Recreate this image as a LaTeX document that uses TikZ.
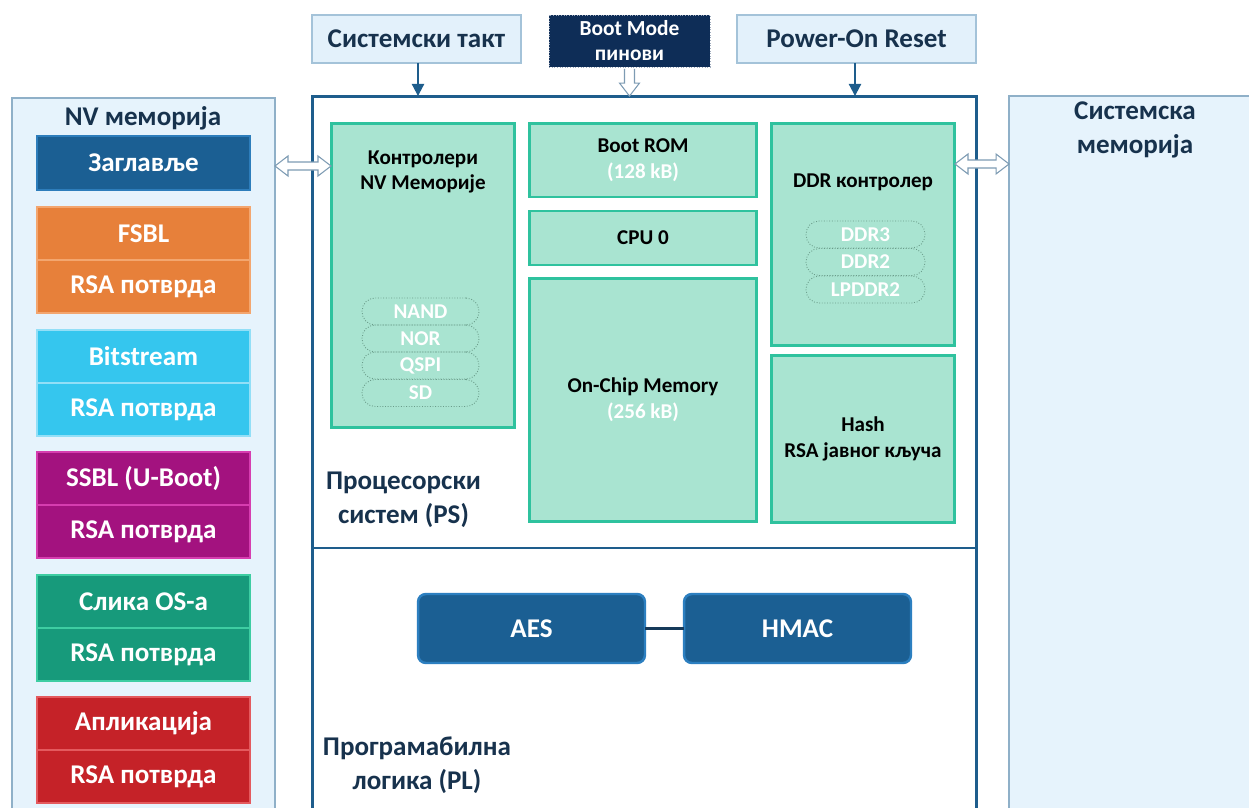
\documentclass[tikz,border=0pt]{standalone}
\usepackage{fontspec}
\setmainfont{Carlito}
\usetikzlibrary{calc,arrows.meta}

\definecolor{panelfill}{HTML}{E6F3FC}
\definecolor{panelline}{HTML}{8FB0C8}
\definecolor{topfill}{HTML}{E3F1FB}
\definecolor{topline}{HTML}{A4C3D9}
\definecolor{navytext}{HTML}{17324D}
\definecolor{chipline}{HTML}{1E5D8C}
\definecolor{bootfill}{HTML}{0E2D57}
\definecolor{blockfill}{HTML}{A9E4D1}
\definecolor{blockline}{HTML}{2FC29E}
\definecolor{pillline}{HTML}{6A9C8A}
\definecolor{hdrblue}{HTML}{1B5F93}
\definecolor{hdrline}{HTML}{2D7DBB}
\definecolor{aesline}{HTML}{2C7FC0}
\definecolor{linkline}{HTML}{163A5A}
\definecolor{hollowline}{HTML}{7D9BB3}
\definecolor{orfill}{HTML}{E7803A}
\definecolor{orline}{HTML}{F3A66F}
\definecolor{cyfill}{HTML}{35C6EE}
\definecolor{cyline}{HTML}{92DFF7}
\definecolor{mgfill}{HTML}{A3127F}
\definecolor{mgline}{HTML}{D63DB0}
\definecolor{tlfill}{HTML}{179A7B}
\definecolor{tlline}{HTML}{3ECDA2}
\definecolor{rdfill}{HTML}{C52228}
\definecolor{rdline}{HTML}{E45A5E}

\newcommand\bigtxt{\bfseries\fontsize{15.4}{19}\selectfont}
\newcommand\smalltxt{\bfseries\fontsize{12}{14.6}\selectfont}

% one image entry of the NV memory: name, centre of upper half, fill, border, two labels
\newcommand\segpair[6]{%
  \node[seg, fill=#3, draw=#4] (#1a) at (143.5,#2) {#5};
  \node[seg, fill=#3, draw=#4] (#1b) at (143.5,#2+53) {#6};}

% hollow two-headed arrow between two points on one row
\newcommand\fatdarrow[2]{%
  \draw[hollow] (#1) -- ($(#1)+(13,-10)$) -- ($(#1)+(13,-4)$) -- ($(#2)+(-13,-4)$)
    -- ($(#2)+(-13,-10)$) -- (#2) -- ($(#2)+(-13,10)$) -- ($(#2)+(-13,4)$)
    -- ($(#1)+(13,4)$) -- ($(#1)+(13,10)$) -- cycle;}

\begin{document}
\begin{tikzpicture}[x=0.02cm, y=-0.02cm,
  every node/.style={inner sep=0pt, outer sep=0pt, align=center},
  panel/.style={draw=panelline, fill=panelfill, line width=0.8pt},
  topbox/.style={draw=topline, fill=topfill, line width=0.8pt, text=navytext, font=\bigtxt,
    minimum height=0.96cm},
  blk/.style={draw=blockline, fill=blockfill, line width=1.7pt, font=\smalltxt},
  pill/.style={draw=pillline, densely dotted, line width=0.5pt, rounded corners=7.5pt,
    text=white, font=\smalltxt, minimum height=0.54cm},
  seg/.style={line width=1.3pt, text=white, font=\bigtxt, minimum width=4.26cm,
    minimum height=1.06cm},
  crypto/.style={draw=aesline, fill=hdrblue, line width=1.4pt, rounded corners=4.5pt,
    text=white, font=\bigtxt, minimum width=4.54cm, minimum height=1.38cm},
  hollow/.style={draw=hollowline, fill=white, line width=0.6pt, line join=miter},
  thin/.style={draw=chipline, line width=1.1pt, -{Triangle[length=7pt,width=7pt]}},
  label/.style={text=navytext, font=\bigtxt}]
\useasboundingbox (0,0) rectangle (1249,808);

% side panels: non-volatile memory and system memory
\node[panel, minimum width=5.26cm, minimum height=14.32cm] (nv) at (143.5,456) {};
\node[panel, minimum width=5.02cm, minimum height=14.36cm] (sysmem) at (1134.5,455) {};
\node[label] (nvtitle) at (143,118) {NV меморија};
\node[label] (systitle) at (1135,130) {Системска\\меморија};

% boot image layout
\node[seg, fill=hdrblue, draw=hdrline, minimum height=1.08cm] (hdr) at (143.5,163) {Заглавље};
\segpair{fsbl}{233.5}{orfill}{orline}{FSBL}{RSA потврда}
\segpair{bit}{356.5}{cyfill}{cyline}{Bitstream}{RSA потврда}
\segpair{ssbl}{478.5}{mgfill}{mgline}{SSBL (U-Boot)}{RSA потврда}
\segpair{os}{601.5}{tlfill}{tlline}{Слика OS-а}{RSA потврда}
\segpair{app}{723.5}{rdfill}{rdline}{Апликација}{RSA потврда}

% the SoC with its processing system and programmable logic
\node[draw=chipline, fill=white, line width=1.7pt, minimum width=13.3cm, minimum height=14.36cm]
  (chip) at (644.5,455) {};
\coordinate (divy) at (0,548);
\draw[chipline, line width=1.7pt] (chip.west |- divy) -- (chip.east |- divy);

% inputs above the chip
\node[topbox, minimum width=4.18cm] (clk) at (416.5,39) {Системски такт};
\node[draw=white!60!bootfill, densely dotted, fill=bootfill, text=white, line width=0.5pt,
  font=\bfseries\fontsize{12.2}{14.2}\selectfont, minimum width=3.22cm, minimum height=1.04cm]
  (boot) at (629.5,41) {Boot Mode\\пинови};
\node[topbox, minimum width=4.78cm] (por) at (856.5,39) {Power-On Reset};

% processing system blocks
\node[blk, minimum width=3.68cm, minimum height=6.10cm] (ctrl) at (423,275.5) {};
\node[font=\smalltxt] (ctrltxt) at (423,172) {Контролери\\NV Меморије};
\node[pill, minimum width=2.34cm] (nand) at (420.5,311.5) {NAND};
\node[pill, minimum width=2.34cm] (nor) at (420.5,338.5) {NOR};
\node[pill, minimum width=2.34cm] (qspi) at (420.5,365.5) {QSPI};
\node[pill, minimum width=2.34cm] (sd) at (420.5,393) {SD};

\node[blk, minimum width=4.56cm, minimum height=1.48cm] (rom) at (643,160)
  {Boot ROM\\\textcolor{white}{(128 kB)}};
\node[blk, minimum width=4.56cm, minimum height=1.08cm] (cpu) at (643,238) {CPU 0};
\node[blk, minimum width=4.56cm, minimum height=4.88cm] (ocm) at (643,400)
  {On-Chip Memory\\\textcolor{white}{(256 kB)}};

\node[blk, minimum width=3.68cm, minimum height=4.46cm] (ddr) at (863,234.5) {};
\node[font=\smalltxt] (ddrtxt) at (863,182) {DDR контролер};
\node[pill, minimum width=2.38cm] (ddr3) at (865.5,234.5) {DDR3};
\node[pill, minimum width=2.38cm] (ddr2) at (865.5,262) {DDR2};
\node[pill, minimum width=2.38cm] (lpddr) at (865.5,289.5) {LPDDR2};

\node[blk, minimum width=3.68cm, minimum height=3.36cm] (hash) at (863,439)
  {Hash\\RSA јавног кључа};

\node[label, font=\bfseries\fontsize{15.4}{19.3}\selectfont] (pstxt) at (403.5,500)
  {Процесорски\\систем (PS)};

% programmable logic crypto engines
\node[crypto] (aes) at (531.5,628.5) {AES};
\node[crypto] (hmac) at (797.5,628.5) {HMAC};
\draw[linkline, line width=2pt] (aes.east) -- (hmac.west);
\node[label, font=\bfseries\fontsize{15.4}{19.3}\selectfont] (pltxt) at (417,765)
  {Програмабилна\\логика (PL)};

% signals into the chip
\draw[thin] (clk.south -| 418,0) -- (chip.north -| 418,0);
\draw[thin] (por.south -| 855,0) -- (chip.north -| 855,0);
\coordinate (b0) at (boot.south);
\coordinate (b1) at (boot.south |- chip.north);
\draw[hollow] ($(b0)+(-5,2)$) -- ($(b1)+(-5,-13)$) -- ($(b1)+(-10,-13)$) -- (b1)
  -- ($(b1)+(10,-13)$) -- ($(b1)+(5,-13)$) -- ($(b0)+(5,2)$);

% memory buses
\coordinate (rowa) at (0,166);
\coordinate (rowb) at (0,164);
\fatdarrow{nv.east |- rowa}{ctrl.west |- rowa}
\fatdarrow{ddr.east |- rowb}{sysmem.west |- rowb}
\end{tikzpicture}
\end{document}
